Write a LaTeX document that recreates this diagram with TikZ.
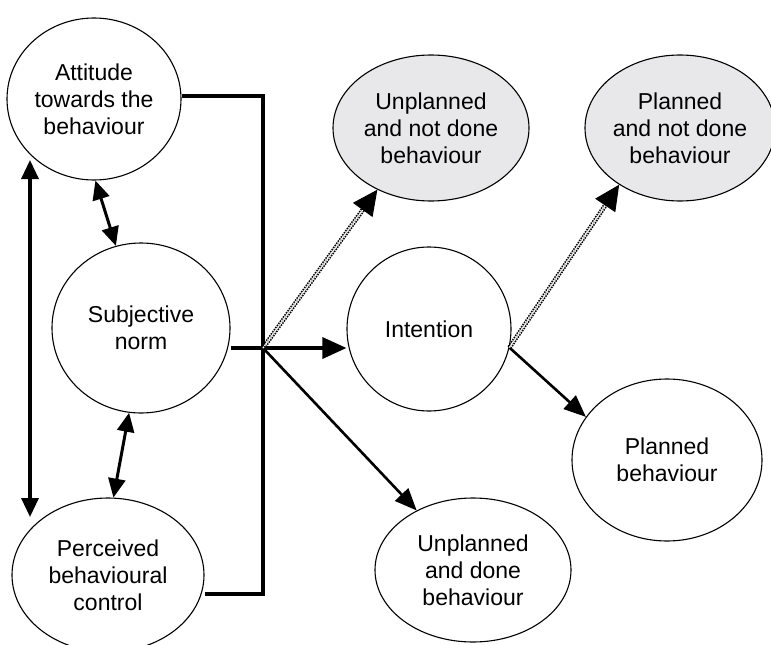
\documentclass[tikz,border=0pt]{standalone}
\usepackage{fontspec}
\setmainfont{Liberation Sans}
\usetikzlibrary{shapes.geometric,arrows.meta,calc}
\definecolor{shade}{RGB}{232,232,234}
\begin{document}
\begin{tikzpicture}[x=1pt,y=-1pt,
  state/.style={ellipse,draw,line width=1.1pt,inner sep=0pt,align=center,
    font=\fontsize{23}{27}\selectfont},
  faded/.style={state,fill=shade},
  bar/.style={line width=3.4pt},
  bigtip/.style={-{Triangle[length=24pt,width=21pt]}},
  twotip/.style={{Triangle[length=19pt,width=17pt]}-{Triangle[length=19pt,width=17pt]}},
  slant/.style={line width=2.6pt,-{Triangle[length=22pt,width=18pt]}},
  dotshaft/.style={line width=1.6pt,double,double distance=1.4pt,
    dash pattern=on 1.5pt off 1.1pt},
  dottip/.style={line width=1pt,-{Triangle[length=25pt,width=24pt]}}
]
\useasboundingbox (0,0) rectangle (771,645);

% the three antecedents
\node[state,minimum width=174pt,minimum height=162pt] (att) at (94,99)
  {Attitude\\towards the\\behaviour};
\node[state,minimum width=178pt,minimum height=170pt] (sn) at (141,328)
  {Subjective\\norm};
\node[state,minimum width=192pt,minimum height=154pt] (pbc) at (108,575)
  {Perceived\\behavioural\\control};

% intention and the outcomes
\node[state,minimum width=164pt,minimum height=164pt] (int) at (429,329)
  {Intention};
\node[faded,minimum width=196pt,minimum height=146pt] (unr) at (431,128)
  {Unplanned\\and not done\\behaviour};
\node[faded,minimum width=190pt,minimum height=146pt] (pnd) at (680,128)
  {Planned\\and not done\\behaviour};
\node[state,minimum width=190pt,minimum height=162pt] (pb) at (667,460)
  {Planned\\behaviour};
\node[state,minimum width=196pt,minimum height=144pt] (und) at (473,570)
  {Unplanned\\and done\\behaviour};

% junction points of the collecting bar
\coordinate (jt) at (263,96);
\coordinate (jm) at (263,348);
\coordinate (jb) at (263,594);
\coordinate (is) at (int.-13);
\coordinate (va) at (30,160);
\coordinate (vb) at (30,517);

% collecting bar
\draw[bar] (att.east |- jt) -- (jt) -- (jb) -- (jb -| pbc.east);
\draw[bar,bigtip] (jm -| sn.east) -- (jm -| int.west);

% correlations between antecedents
\draw[bar,twotip] (va) -- (vb);
\draw[line width=3pt,twotip] (att.-89) -- (sn.107);
\draw[line width=3pt,twotip] (sn.-98) -- (pbc.86);

% solid paths
\draw[slant] (jm) -- (und);
\draw[slant] (is) -- (pb.152);

% dotted paths
\draw[dotshaft,shorten >=16pt] (jm) -- (unr.-131);
\draw[dottip] ($(unr.-131)!22pt!(jm)$) -- (unr.-131);
\draw[dotshaft,shorten >=16pt] (is) -- (pnd.-137);
\draw[dottip] ($(pnd.-137)!22pt!(is)$) -- (pnd.-137);
\end{tikzpicture}
\end{document}
